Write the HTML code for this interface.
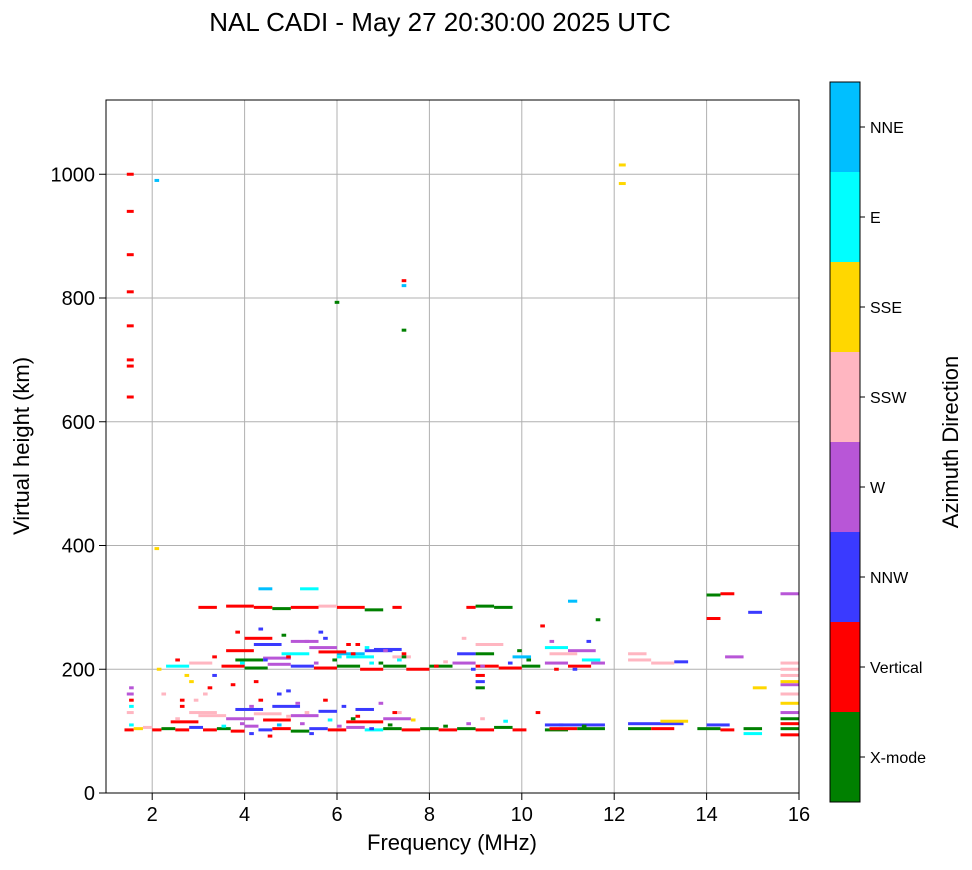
<!DOCTYPE html>
<html><head><meta charset="utf-8"><style>
body{margin:0;background:#fff;}
svg text{font-family:"Liberation Sans","DejaVu Sans",sans-serif;}
</style></head><body>
<svg id="chart" width="972" height="865" xmlns="http://www.w3.org/2000/svg">
<text x="440" y="31" font-size="26" text-anchor="middle">NAL CADI - May 27 20:30:00 2025 UTC</text>
<g id="grid"></g>
<g id="marks"></g>
<rect x="106" y="100" width="693" height="693" fill="none" stroke="#000" stroke-width="1"/>
<g id="ticks"></g>
<text x="452" y="850" font-size="22" text-anchor="middle">Frequency (MHz)</text>
<text transform="translate(29,446) rotate(-90)" font-size="22" text-anchor="middle">Virtual height (km)</text>
<g id="cbar"></g>
<text transform="translate(958,442) rotate(-90)" font-size="22" text-anchor="middle">Azimuth Direction</text>
</svg>
<script>
const dirLabels=["X-mode","Vertical","NNW","W","SSW","SSE","E","NNE"];
const dirColors=["#008000","#ff0000","#3a3aff","#b856d7","#ffb6c1","#ffd700","#00ffff","#00bfff"];
const xTicks=[2,4,6,8,10,12,14,16];
const yTicks=[0,200,400,600,800,1000];
// segments: start freq, end freq, height (km), direction index
const segStart=[1.4,1.6,1.8,2.0,2.2,2.5,2.8,3.1,3.4,3.7,4.0,4.3,4.6,5.0,5.4,5.8,6.2,6.6,7.0,7.4,7.8,8.2,8.6,9.0,9.4,9.8,10.5,10.5,10.6,11.2,12.3,12.3,12.8,13.0,13.8,14.0,14.3,14.8,14.8,15.6,15.6,15.6,15.6,15.6,15.6,15.6,15.6,
3.6,3.8,4.2,4.4,5.0,2.4,2.8,5.6,6.2,6.4,7.0,4.6,3.0,
2.3,2.8,3.5,4.0,4.5,5.0,5.5,6.0,6.5,7.0,7.5,8.0,8.5,9.0,9.5,10.0,10.5,11.0,11.5,12.3,12.8,13.3,
3.6,4.2,4.8,5.4,6.0,6.6,7.2,4.0,5.0,6.2,3.8,4.4,5.6,6.8,9.0,10.5,11.0,9.0,9.8,10.6,11.3,12.3,14.4,8.6,
3.0,3.6,4.2,4.6,5.0,5.6,6.0,6.6,7.2,8.8,9.0,9.4,4.3,5.2,
14.0,14.3,14.9,15.6,14.0,
1.45,1.45,1.45,1.45,1.45,1.45,1.45,1.45,1.45,2.05,7.4,7.4,5.95,7.4,12.1,12.1,1.45,2.05,
1.5,1.5,1.5,1.5,2.5,2.6,2.9,3.2,3.3,3.5,3.9,4.1,4.5,4.7,4.9,5.2,5.4,5.8,6.0,6.4,6.7,7.1,7.3,
2.6,3.1,3.7,4.1,4.3,4.7,5.1,5.3,5.7,6.1,6.3,6.9,7.2,7.6,8.3,8.8,9.1,9.6,10.3,10.8,11.3,
3.3,3.9,4.4,4.9,5.5,5.9,6.3,6.9,7.3,8.1,9.7,10.1,10.7,11.1,
3.8,4.3,4.8,5.3,5.7,6.2,6.6,7.0,7.4,8.3,9.1,9.9,10.4,11.4,
9.0,9.0,9.0,11.0,11.6,8.7,15.0,15.6,15.6,15.6,15.6,2.1,2.2,2.7,4.2,5.6,6.0,6.4,6.7,7.4,8.9,10.6,2.5,2.8,4.9];
const segEnd=[1.6,1.8,2.0,2.2,2.5,2.8,3.1,3.4,3.7,4.0,4.3,4.6,5.0,5.4,5.8,6.2,6.6,7.0,7.4,7.8,8.2,8.6,9.0,9.4,9.8,10.1,11.0,11.8,11.2,11.8,12.8,13.5,13.3,13.6,14.3,14.5,14.6,15.2,15.2,16,16,16,16,16,16,16,16,
4.2,4.4,4.8,5.0,5.6,3.0,3.4,6.0,7.0,6.8,7.6,5.2,3.6,
2.8,3.3,4.0,4.5,5.0,5.5,6.0,6.5,7.0,7.5,8.0,8.5,9.0,9.5,10.0,10.4,11.0,11.5,11.8,12.8,13.3,13.6,
4.2,4.8,5.4,6.0,6.6,7.2,7.6,4.6,5.6,6.8,4.4,5.0,6.2,7.4,9.6,11.0,11.6,9.4,10.2,11.2,11.7,12.7,14.8,9.0,
3.4,4.2,4.6,5.0,5.6,6.0,6.6,7.0,7.4,9.0,9.4,9.8,4.6,5.6,
14.3,14.6,15.2,16,14.3,
1.6,1.6,1.6,1.6,1.6,1.6,1.6,1.6,1.6,2.15,7.5,7.5,6.05,7.5,12.25,12.25,1.6,2.15,
1.6,1.6,1.6,1.6,2.6,2.7,3.0,3.3,3.4,3.6,4.0,4.2,4.6,4.8,5.0,5.3,5.5,5.9,6.1,6.5,6.8,7.2,7.4,
2.7,3.2,3.8,4.2,4.4,4.8,5.2,5.4,5.8,6.2,6.4,7.0,7.3,7.7,8.4,8.9,9.2,9.7,10.4,10.9,11.4,
3.4,4.0,4.5,5.0,5.6,6.0,6.4,7.0,7.4,8.2,9.8,10.2,10.8,11.2,
3.9,4.4,4.9,5.4,5.8,6.3,6.7,7.1,7.5,8.4,9.2,10.0,10.5,11.5,
9.2,9.2,9.2,11.2,11.7,8.8,15.3,16,16,16,16,2.2,2.3,2.8,4.3,5.7,6.1,6.5,6.8,7.5,9.0,10.7,2.6,2.9,5.0];
const segHeight=[102,104,106,102,104,102,106,102,104,100,108,102,104,100,104,102,106,102,104,102,104,102,104,102,106,102,102,110,104,104,104,112,104,116,104,110,102,104,96,94,104,112,120,130,145,160,190,
120,135,128,118,125,115,130,132,115,135,120,140,125,
205,210,205,202,208,205,202,205,200,205,200,205,210,205,202,205,210,205,210,215,210,212,
230,240,225,235,225,230,220,250,245,220,215,218,228,232,240,235,230,225,220,225,215,225,220,225,
300,302,300,298,300,302,300,296,300,300,302,300,330,330,
320,322,292,322,282,
1000,940,870,810,755,700,690,640,160,395,820,748,793,828,1015,985,130,990,
170,150,140,110,120,140,150,170,190,108,112,96,92,110,124,112,96,118,108,124,104,110,130,
150,160,175,140,150,160,145,130,150,140,120,145,130,118,108,112,120,116,130,110,108,
220,210,215,220,210,215,225,210,215,205,210,215,200,200,
260,265,255,245,250,240,235,230,225,212,205,230,270,245,
170,180,190,310,280,250,170,175,180,200,210,200,160,190,180,260,220,240,210,220,200,245,215,180,165];
const segDir=[1,5,4,1,0,1,2,1,0,1,3,2,1,0,2,1,3,6,0,1,0,1,0,1,0,1,0,2,1,0,0,2,1,5,0,2,1,0,6,1,0,1,0,3,5,4,4,
3,2,4,1,3,1,4,2,1,2,3,2,4,
6,4,1,0,3,2,1,0,1,0,1,0,3,1,1,0,3,1,3,4,4,2,
1,2,6,3,7,2,4,1,3,6,0,3,1,2,4,6,3,0,7,4,6,4,3,2,
1,1,1,0,1,4,1,0,1,1,0,0,7,6,
0,1,2,3,1,
1,1,1,1,1,1,1,1,3,5,7,0,0,1,5,5,4,7,
3,1,6,6,4,1,4,1,2,6,3,2,1,7,4,3,2,6,3,1,2,0,4,
1,4,1,3,1,2,3,4,1,2,0,3,1,5,0,3,4,6,1,2,0,
1,6,2,1,3,0,1,0,6,1,2,0,1,2,
1,2,0,3,2,1,6,3,1,4,3,0,1,2,
0,2,1,7,0,4,5,3,5,4,4,5,4,5,1,2,6,1,6,0,2,3,1,5,2];

const X=f=>106+(f-1)*693/15;
const Y=h=>793-h*693/1120;
const NS="http://www.w3.org/2000/svg";
function mk(tag,attrs,parent){const e=document.createElementNS(NS,tag);for(const k in attrs)e.setAttribute(k,attrs[k]);parent.appendChild(e);return e;}
const grid=document.getElementById('grid'),ticks=document.getElementById('ticks'),marks=document.getElementById('marks'),cbar=document.getElementById('cbar');
xTicks.forEach(t=>{
  const gl=mk('line',{x1:X(t),x2:X(t),y1:100,y2:793,stroke:'#b0b0b0','stroke-width':1},grid);
  
  
  mk('line',{x1:X(t),x2:X(t),y1:793,y2:800,stroke:'#000'},ticks);
  const tx=mk('text',{x:X(t),y:821,'font-size':20,'text-anchor':'middle'},ticks);tx.textContent=t;
  
  
});
yTicks.forEach(t=>{
  const gl=mk('line',{x1:106,x2:799,y1:Y(t),y2:Y(t),stroke:'#b0b0b0','stroke-width':1},grid);
  
  
  mk('line',{x1:99,x2:106,y1:Y(t),y2:Y(t),stroke:'#000'},ticks);
  const tx=mk('text',{x:95,y:Y(t)+7,'font-size':20,'text-anchor':'end'},ticks);tx.textContent=t;
  
  
});
for(let i=0;i<segStart.length;i++){
  const x0=X(segStart[i]),x1=X(segEnd[i]);
  const r=mk('rect',{x:x0,y:Y(segHeight[i])-1.5,width:Math.max(1.5,x1-x0),height:3,fill:dirColors[segDir[i]]},marks);
  
  
}
dirLabels.forEach((l,i)=>{
  const y0=802-(i+1)*90;
  const r=mk('rect',{x:830,y:y0,width:30,height:90,fill:dirColors[i]},cbar);
  
  
  mk('line',{x1:860,x2:865,y1:y0+45,y2:y0+45,stroke:'#000'},cbar);
  const tx=mk('text',{x:870,y:y0+51,'font-size':16},cbar);tx.textContent=l;
  
  
});
mk('rect',{x:830,y:82,width:30,height:720,fill:'none',stroke:'#000'},cbar);
</script>
</body></html>
